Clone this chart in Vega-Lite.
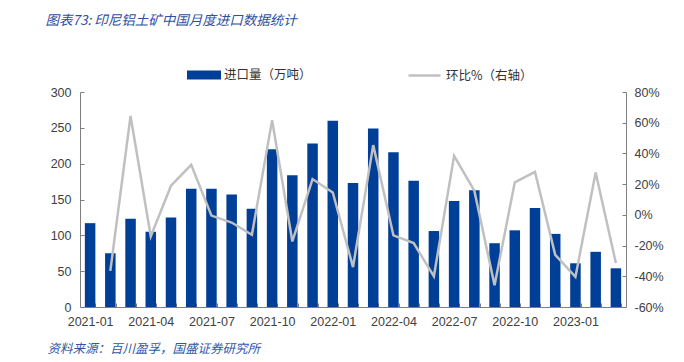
{
  "$schema": "https://vega.github.io/schema/vega-lite/v6.json",
  "width": 546,
  "height": 215,
  "autosize": {"type": "none"},
  "padding": {"left": 80, "top": 92, "right": 58, "bottom": 55},
  "background": "white",
  "config": {
    "view": {"stroke": null},
    "axis": {
      "labelFont": "Liberation Sans",
      "labelFontSize": 12.5,
      "labelColor": "#404040",
      "domainColor": "#7f7f7f",
      "tickColor": "#7f7f7f",
      "grid": false
    },
    "legend": {
      "labelFont": "Noto Sans CJK SC",
      "labelFontSize": 12.5,
      "labelColor": "#333333",
      "padding": 0
    }
  },
  "data": {
    "values": [
      {"month": "2021-01", "volume": 117, "mom": null},
      {"month": "2021-02", "volume": 75, "mom": -36.5},
      {"month": "2021-03", "volume": 123, "mom": 64.4},
      {"month": "2021-04", "volume": 105, "mom": -14},
      {"month": "2021-05", "volume": 125, "mom": 19},
      {"month": "2021-06", "volume": 165, "mom": 32.6},
      {"month": "2021-07", "volume": 165, "mom": -0.5},
      {"month": "2021-08", "volume": 157, "mom": -5},
      {"month": "2021-09", "volume": 137, "mom": -13},
      {"month": "2021-10", "volume": 220, "mom": 61.6},
      {"month": "2021-11", "volume": 184, "mom": -17.3},
      {"month": "2021-12", "volume": 228, "mom": 23.3},
      {"month": "2022-01", "volume": 260, "mom": 14.6},
      {"month": "2022-02", "volume": 173, "mom": -34},
      {"month": "2022-03", "volume": 249, "mom": 45.4},
      {"month": "2022-04", "volume": 216, "mom": -13.4},
      {"month": "2022-05", "volume": 176, "mom": -18.4},
      {"month": "2022-06", "volume": 106, "mom": -40},
      {"month": "2022-07", "volume": 148, "mom": 38.4},
      {"month": "2022-08", "volume": 163, "mom": 15.7},
      {"month": "2022-09", "volume": 89, "mom": -45.8},
      {"month": "2022-10", "volume": 107, "mom": 21.1},
      {"month": "2022-11", "volume": 138, "mom": 28},
      {"month": "2022-12", "volume": 102, "mom": -26},
      {"month": "2023-01", "volume": 61, "mom": -40.4},
      {"month": "2023-02", "volume": 77, "mom": 27.6},
      {"month": "2023-03", "volume": 54, "mom": -31.4}
    ]
  },
  "encoding": {
    "x": {
      "field": "month",
      "type": "ordinal",
      "scale": {"paddingInner": 0.48},
      "title": "资料来源：百川盈孚，国盛证券研究所",
      "axis": {
        "labelAngle": 0,
        "labelExpr": "toNumber(substring(datum.value, 5, 7)) % 3 == 1 ? datum.value : ''",
        "tickBand": "extent",
        "tickSize": -4,
        "labelPadding": 12,
        "titleX": -33,
        "titleY": 41,
        "titleAlign": "left",
        "titleAnchor": "start",
        "titleBaseline": "middle",
        "titleFont": "Noto Sans CJK SC",
        "titleFontSize": 12.5,
        "titleFontStyle": "italic",
        "titleFontWeight": "normal",
        "titleColor": "#3155a4"
      }
    }
  },
  "layer": [
    {
      "mark": {"type": "bar"},
      "encoding": {
        "y": {
          "field": "volume",
          "type": "quantitative",
          "scale": {"domain": [0, 300], "nice": false},
          "title": "图表73: 印尼铝土矿中国月度进口数据统计",
          "axis": {
            "values": [0, 50, 100, 150, 200, 250, 300],
            "tickSize": -4,
            "labelPadding": 13,
            "titleAngle": 0,
            "titleX": -35,
            "titleY": -72,
            "titleAlign": "left",
            "titleBaseline": "middle",
            "titleFont": "Noto Sans CJK SC",
            "titleFontSize": 13.5,
            "titleFontStyle": "italic",
            "titleFontWeight": "normal",
            "titleColor": "#2f4f9f"
          }
        },
        "fill": {
          "datum": "进口量（万吨）",
          "type": "nominal",
          "scale": {"range": ["#003f98"]},
          "legend": {
            "title": null,
            "orient": "none",
            "legendX": 107,
            "legendY": -34,
            "symbolType": "M-1,-0.265H1V0.265H-1Z",
            "symbolSize": 1156,
            "symbolStrokeWidth": 0,
            "labelOffset": 3
          }
        }
      }
    },
    {
      "mark": {"type": "line", "strokeWidth": 2.5},
      "encoding": {
        "y": {
          "field": "mom",
          "type": "quantitative",
          "scale": {"domain": [-60, 80], "nice": false},
          "title": null,
          "axis": {
            "orient": "right",
            "values": [-60, -40, -20, 0, 20, 40, 60, 80],
            "labelExpr": "datum.value + '%'",
            "tickSize": -4,
            "labelPadding": 12
          }
        },
        "stroke": {
          "datum": "环比%（右轴）",
          "type": "nominal",
          "scale": {"range": ["#c0c0c0"]},
          "legend": {
            "title": null,
            "orient": "none",
            "legendX": 327,
            "legendY": -34,
            "symbolType": "stroke",
            "symbolSize": 1024,
            "symbolStrokeWidth": 2.5,
            "labelOffset": 4
          }
        }
      }
    }
  ],
  "resolve": {"scale": {"y": "independent"}}
}
